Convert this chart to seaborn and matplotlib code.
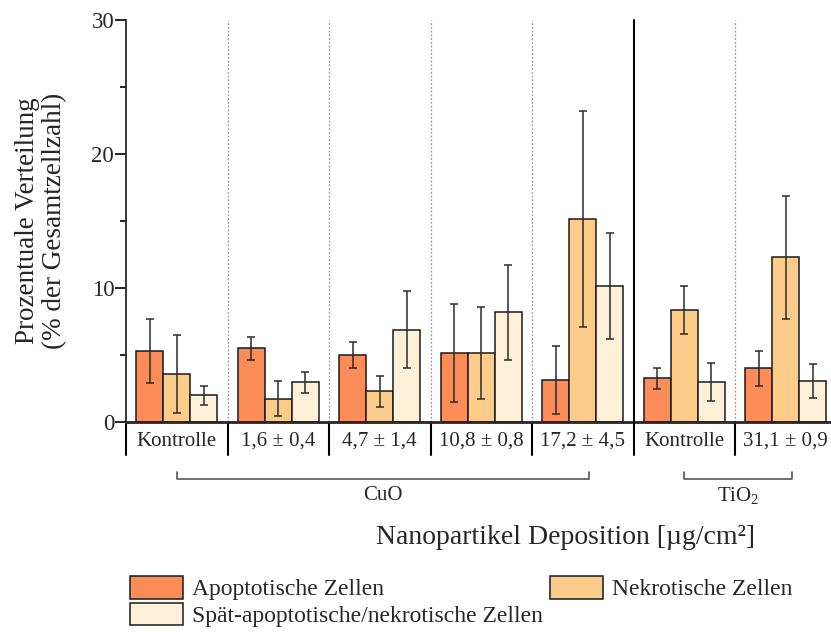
import numpy as np
import pandas as pd
import matplotlib
matplotlib.use("Agg")
import matplotlib.pyplot as plt
import matplotlib.transforms as mtransforms
from matplotlib.ticker import MultipleLocator
import seaborn as sns

# Deposited dose per exposure group and the particle material
doses = ["Kontrolle", "1,6 ± 0,4", "4,7 ± 1,4", "10,8 ± 0,8", "17,2 ± 4,5",
         "Kontrolle", "31,1 ± 0,9"]
materials = ["CuO", "CuO", "CuO", "CuO", "CuO", "TiO$_2$", "TiO$_2$"]

cell_types = ["Apoptotische Zellen", "Nekrotische Zellen",
              "Spät-apoptotische/nekrotische Zellen"]

# Mean share of total cell count (%) and standard deviation
apoptotic = [5.3, 5.5, 5.0, 5.15, 3.15, 3.25, 4.0]
apoptotic_sd = [2.4, 0.85, 0.95, 3.68, 2.55, 0.75, 1.3]
necrotic = [3.6, 1.75, 2.3, 5.15, 15.15, 8.35, 12.3]
necrotic_sd = [2.9, 1.3, 1.15, 3.45, 8.05, 1.78, 4.6]
late_apoptotic = [2.0, 2.95, 6.9, 8.2, 10.15, 3.0, 3.05]
late_apoptotic_sd = [0.7, 0.8, 2.87, 3.55, 3.95, 1.44, 1.27]

colors = ["#fc8d59", "#fdcc8a", "#fef0d9"]

sns.set_theme(style="ticks")
plt.rcParams["font.family"] = ["Liberation Serif", "DejaVu Serif"]
plt.rcParams["mathtext.fontset"] = "custom"
plt.rcParams["mathtext.rm"] = "Liberation Serif"
plt.rcParams["mathtext.it"] = "Liberation Serif:italic"

# Unique keys so the two control groups stay separate categories
keys = [f"{m}|{d}" for m, d in zip(materials, doses)]
means = [apoptotic, necrotic, late_apoptotic]
sds = [apoptotic_sd, necrotic_sd, late_apoptotic_sd]
df = pd.DataFrame({
    "group": np.tile(keys, 3),
    "type": np.repeat(cell_types, len(keys)),
    "value": np.concatenate(means),
})

W, H = 831, 635
fig = plt.figure(figsize=(W / 100, H / 100), dpi=100)
ax = fig.add_axes([126 / W, 1 - 422 / H, 710.5 / W, 402 / H])

sns.barplot(data=df, x="group", y="value", hue="type", order=keys,
            hue_order=cell_types, palette=colors, saturation=1,
            errorbar=None, edgecolor="#1a1a1a", linewidth=1.1, width=0.8,
            ax=ax)

# Standard deviation whiskers on top of each bar
for cont, sd in zip(ax.containers, sds):
    xs = [p.get_x() + p.get_width() / 2 for p in cont.patches]
    ys = [p.get_height() for p in cont.patches]
    ax.errorbar(xs, ys, yerr=sd, fmt="none", ecolor="#2b2b2b",
                elinewidth=1.1, capsize=3.2, capthick=1.1, zorder=5)

ax.set_xlim(-0.5, len(keys) - 0.5)
ax.set_ylim(0, 30)
ax.yaxis.set_major_locator(MultipleLocator(10))
ax.yaxis.set_minor_locator(MultipleLocator(5))
ax.tick_params(axis="y", which="major", length=8, width=1.2, labelsize=16.5,
               pad=0.5, color="black")
ax.tick_params(axis="y", which="minor", length=4, width=1.2, color="black")
ax.set_xticks(range(len(keys)))
ax.set_xticklabels(doses)
ax.tick_params(axis="x", length=0, labelsize=15, pad=7)
ax.set_xlabel("")
ax.set_ylabel("")
for side in ("top", "right"):
    ax.spines[side].set_visible(False)
ax.spines["left"].set_linewidth(1.3)
ax.spines["bottom"].set_linewidth(2.0)

trans = mtransforms.blended_transform_factory(ax.transData, ax.transAxes)
drop = -33 / 402

# Separators between dose groups; solid where the material changes
ax.plot([-0.5, -0.5], [drop, 0], color="black", lw=1.5, transform=trans,
        clip_on=False)
for i in range(len(keys) - 1):
    xb = i + 0.5
    if materials[i] != materials[i + 1]:
        ax.plot([xb, xb], [drop, 1], color="black", lw=1.5, transform=trans,
                clip_on=False, zorder=6)
    else:
        ax.plot([xb, xb], [0, 1], color="#9a9a9a", lw=0.9, ls=(0, (1.5, 1.5)),
                transform=trans, zorder=0.5)
        ax.plot([xb, xb], [drop, 0], color="black", lw=1.5, transform=trans,
                clip_on=False)

# Brackets grouping the doses by material
y_br, y_end, y_txt = -57 / 402, -49.5 / 402, -74 / 402
for mat in dict.fromkeys(materials):
    idx = [i for i, m in enumerate(materials) if m == mat]
    x0, x1 = idx[0], idx[-1] + 0.06
    ax.plot([x0, x0, x1, x1], [y_end, y_br, y_br, y_end], color="#555555",
            lw=1.2, transform=trans, clip_on=False)
    ax.text((x0 + x1) / 2, y_txt, mat, transform=trans, ha="center",
            va="center", fontsize=15)

fig.text(41 / W, 1 - 221 / H, "Prozentuale Verteilung\n(% der Gesamtzellzahl)",
         rotation=90, ha="center", va="center", multialignment="center",
         fontsize=19.5, linespacing=1.15)
fig.text(565 / W, 1 - 538 / H, "Nanopartikel Deposition [µg/cm²]",
         ha="center", va="center", fontsize=20)

handles, labels = ax.get_legend_handles_labels()
ax.get_legend().remove()
order = [0, 2, 1]
fig.legend([handles[i] for i in order], [labels[i] for i in order],
           loc="upper left", bbox_to_anchor=(130 / W, 1 - 576 / H), ncol=2,
           frameon=False, fontsize=17, borderpad=0, borderaxespad=0,
           handlelength=2.25, handleheight=1.1, handletextpad=0.38,
           columnspacing=0.3, labelspacing=0.1)

fig.savefig("out.png", dpi=100)
